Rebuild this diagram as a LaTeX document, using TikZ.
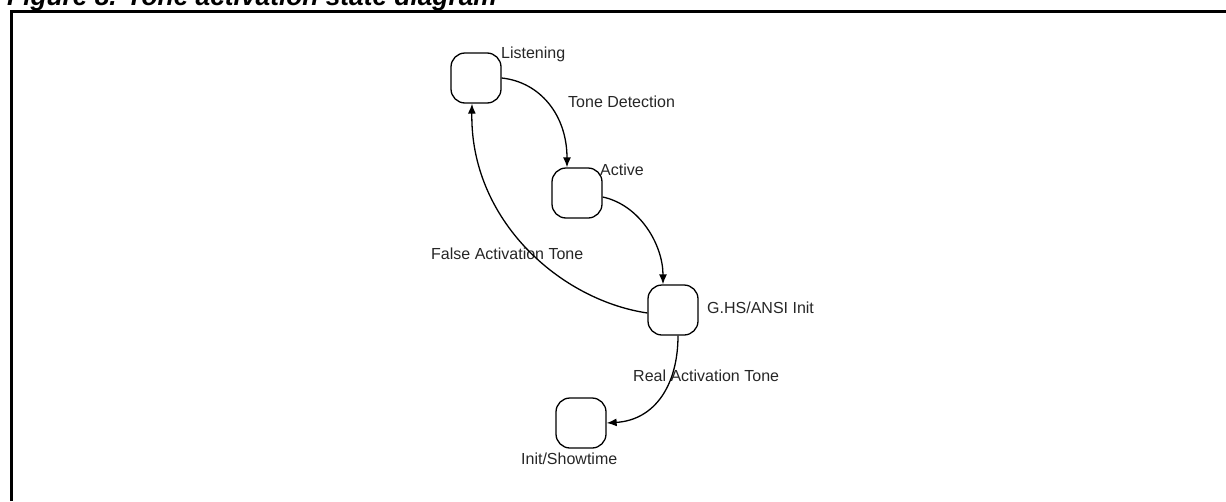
\documentclass[tikz,border=0pt]{standalone}
\usepackage{fontspec}
\setmainfont{Liberation Sans}
\usetikzlibrary{arrows.meta}
\begin{document}
\begin{tikzpicture}[x=1pt,y=-1pt,
  state/.style={draw,line width=1.3pt,rounded corners=14pt,minimum width=50pt,minimum height=50pt,inner sep=0pt},
  lbl/.style={inner sep=0pt,anchor=west,font=\fontsize{16}{19}\selectfont,text=black!85},
  trans/.style={line width=1.3pt,-{Latex[length=10pt,width=8pt]}}]
\useasboundingbox (0,0) rectangle (1226,501);
% caption and frame
\node[anchor=base west,inner sep=0pt,font=\bfseries\itshape\fontsize{26.3}{30}\selectfont] (title) at (7,5) {Figure 8. Tone activation state diagram};
\draw[line width=3pt] (11.5,501) -- (11.5,11.5) -- (1226,11.5);
% states
\node[state] (listen) at (476,78) {};
\node[state] (active) at (577,193) {};
\node[state] (ghs) at (673,310) {};
\node[state] (init) at (581,423) {};
% state names
\node[lbl] (tlisten) at (501,54) {Listening};
\node[lbl] (tactive) at (600,170) {Active};
\node[lbl] (tghs) at (707,308) {G.HS/ANSI Init};
\node[lbl] (tinit) at (521,459) {Init/Showtime};
% transition labels
\node[lbl] (ttone) at (568,102) {Tone Detection};
\node[lbl] (tfalse) at (431,254) {False Activation Tone};
\node[lbl] (treal) at (633,376) {Real Activation Tone};
% transitions
\draw[trans] (listen.east) .. controls (540,82) and (567,115) .. ([xshift=-10pt]active.north);
\draw[trans] ([yshift=-4pt]active.east) .. controls (640,205) and (663,245) .. ([xshift=-10pt]ghs.north);
\draw[trans] ([yshift=-3pt]ghs.west) .. controls (560,300) and (470,220) .. ([xshift=-4pt]listen.south);
\draw[trans] ([xshift=5pt]ghs.south) .. controls (678,385) and (655,420) .. (init.east);
\end{tikzpicture}
\end{document}
